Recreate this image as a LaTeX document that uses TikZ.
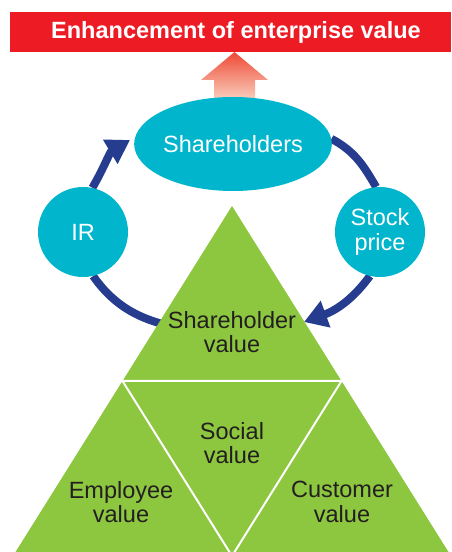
\documentclass[tikz,border=0pt]{standalone}
\usepackage{fontspec}
\setmainfont{Liberation Sans}
\usetikzlibrary{arrows.meta,shapes.geometric,calc}
\definecolor{hdrred}{HTML}{ED1C24}
\definecolor{cyanfill}{HTML}{00B5CC}
\definecolor{ringblue}{HTML}{263D8F}
\definecolor{leaf}{HTML}{8DC63F}
\definecolor{inkdark}{HTML}{231F20}
\definecolor{arrtop}{HTML}{EE4A36}
\definecolor{arrbot}{HTML}{FAD0BF}
\pgfdeclarelayer{background}
\pgfsetlayers{background,main}
\tikzset{
  bodytext/.style={font=\fontsize{23.5}{24.5}\selectfont, align=center},
  bubble/.style={circle, fill=cyanfill, text=white, minimum size=90pt, inner sep=0pt, bodytext},
  ring/.style={draw=ringblue, line width=8pt},
  ringtip/.style={ring, -{Triangle[length=23pt,width=27pt]}},
  label/.style={bodytext, text=inkdark, inner sep=0pt}
}
\begin{document}
\begin{tikzpicture}[x=1pt,y=1pt]
\useasboundingbox (0,0) rectangle (451,552);
\begin{scope}
\clip (0,0) rectangle (451,552);
% header
\node[fill=hdrred, minimum width=441pt, minimum height=40pt, inner sep=0pt, anchor=south west] (hdr) at (10,500) {};
\node[text=white, font=\bfseries\fontsize{23.5}{24}\selectfont, inner sep=0pt] (hdrtext) at (236,520) {Enhancement of enterprise value};
% nodes
\node[ellipse, fill=cyanfill, text=white, minimum width=190pt, minimum height=94pt, inner sep=0pt, bodytext] (Sh) at (233,408) {Shareholders};
\node[bubble] (IR) at (83,320) {IR};
\node[bubble] (St) at (380,320) {Stock\\price};
\coordinate (sv) at (304,230);
\coordinate (hid) at (207,220);
% background: up arrow and ring
\begin{pgfonlayer}{background}
\shade[top color=arrtop, bottom color=arrbot]
  (234.5,500) -- (268,472) -- (255,472) -- (255,452) -- (214,452) -- (214,472) -- (201,472) -- cycle;
\draw[ring] (IR.283) to[out=-55, in=173] (hid);
\draw[ringtip] (IR.78) to[out=60, in=211] ([shift={(-4,4)}]Sh.west);
\draw[ring] (Sh.3) to[out=-28, in=120] (St.95);
\draw[ringtip] (St.257) to[out=234, in=20] (sv);
\end{pgfonlayer}
% pyramid
\coordinate (apex) at (232,346);
\coordinate (bl) at (13,-4);
\coordinate (br) at (451,-4);
\coordinate (ml) at ($(apex)!0.5!(bl)$);
\coordinate (mr) at ($(apex)!0.5!(br)$);
\coordinate (mb) at ($(bl)!0.5!(br)$);
\fill[leaf] (apex) -- (bl) -- (br) -- cycle;
\draw[white, line width=2pt, line join=miter] (ml) -- (mr) -- (mb) -- cycle;
\node[label] (shv) at (232,220) {Shareholder\\value};
\node[label] (sov) at (232,109) {Social\\value};
\node[label] (emv) at (121,50) {Employee\\value};
\node[label] (cuv) at (342,50) {Customer\\value};
\end{scope}
\end{tikzpicture}
\end{document}
